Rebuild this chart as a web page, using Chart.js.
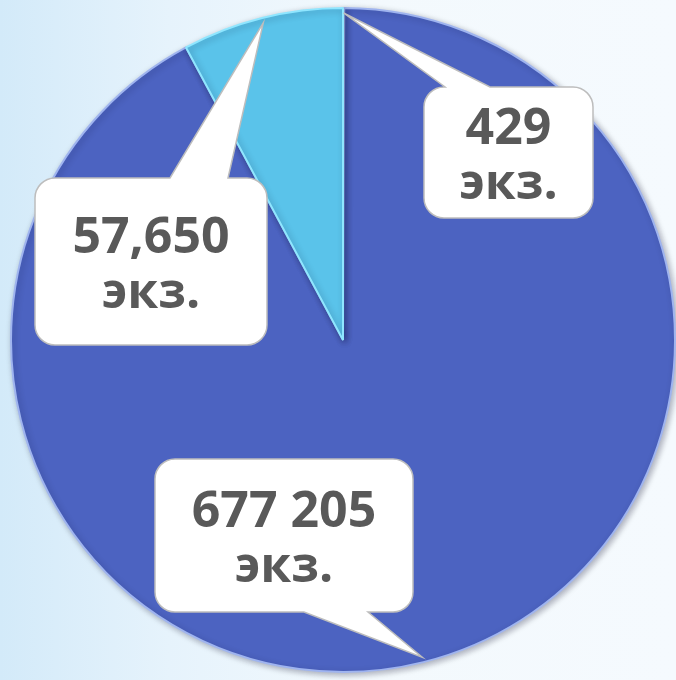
<!DOCTYPE html>
<html>
<head>
<meta charset="utf-8">
<script src="https://cdn.jsdelivr.net/npm/chart.js@4"></script>
<style>
  html, body { margin: 0; padding: 0; }
  body {
    width: 676px; height: 680px; overflow: hidden;
    background: linear-gradient(to right, #d3eaf9 0%, #e6f3fc 25%, #f3f9fd 55%, #f5fafe 100%);
  }
  #wrap { position: relative; width: 676px; height: 680px; }
</style>
</head>
<body>
<div id="wrap"><canvas id="chart" width="676" height="680"></canvas></div>
<script>
// data (clockwise from 12 o'clock)
const values = [429, 677205, 57650];
const valueLabels = ['429', '677 205', '57,650'];
const unitLabel = 'экз.';

// callout boxes, one per slice
const callouts = [
    { x: 424, y: 87, w: 169, h: 131, side: 'top', b1: 445, b2: 490 },
    { x: 155, y: 459, w: 258, h: 153, side: 'bottom', b1: 304, b2: 368 },
    { x: 35, y: 178, w: 232, h: 167, side: 'top', b1: 170, b2: 228 }
];

const calloutPlugin = {
    id: 'callouts',
    afterDatasetsDraw(chart) {
        const ctx = chart.ctx;
        const arcs = chart.getDatasetMeta(0).data;
        arcs.forEach((arc, i) => {
            const p = arc.getProps(['x', 'y', 'startAngle', 'endAngle', 'outerRadius'], true);
            const mid = (p.startAngle + p.endAngle) / 2;
            const tx = p.x + Math.cos(mid) * p.outerRadius * 0.985;
            const ty = p.y + Math.sin(mid) * p.outerRadius * 0.985;
            const c = callouts[i];
            const r = 20;
            const x = c.x, y = c.y, w = c.w, h = c.h;

            ctx.save();
            ctx.beginPath();
            ctx.moveTo(x + r, y);
            if (c.side === 'top') {
                ctx.lineTo(c.b1, y);
                ctx.lineTo(tx, ty);
                ctx.lineTo(c.b2, y);
            }
            ctx.lineTo(x + w - r, y);
            ctx.arcTo(x + w, y, x + w, y + r, r);
            ctx.lineTo(x + w, y + h - r);
            ctx.arcTo(x + w, y + h, x + w - r, y + h, r);
            if (c.side === 'bottom') {
                ctx.lineTo(c.b2, y + h);
                ctx.lineTo(tx, ty);
                ctx.lineTo(c.b1, y + h);
            }
            ctx.lineTo(x + r, y + h);
            ctx.arcTo(x, y + h, x, y + h - r, r);
            ctx.lineTo(x, y + r);
            ctx.arcTo(x, y, x + r, y, r);
            ctx.closePath();
            ctx.fillStyle = '#ffffff';
            ctx.fill();
            ctx.lineWidth = 1.5;
            ctx.strokeStyle = '#bdbdbd';
            ctx.stroke();

            ctx.fillStyle = '#595959';
            ctx.textAlign = 'center';
            ctx.textBaseline = 'alphabetic';
            ctx.font = 'bold 50px "Open Sans"';
            const cx = x + w / 2;
            const base = y + h / 2 - 9;
            ctx.fillText(valueLabels[i], cx, base);
            ctx.fillText(unitLabel, cx, base + 55);
            ctx.restore();
        });
    }
};

const shadowPlugin = {
    id: 'pieShadow',
    beforeDatasetsDraw(chart) {
        const ctx = chart.ctx;
        ctx.save();
        ctx.shadowColor = 'rgba(0, 0, 40, 0.3)';
        ctx.shadowBlur = 6;
        ctx.shadowOffsetX = 2;
        ctx.shadowOffsetY = 2;
    },
    afterDatasetsDraw(chart) {
        chart.ctx.restore();
    }
};

new Chart(document.getElementById('chart'), {
    type: 'pie',
    data: {
        labels: valueLabels,
        datasets: [{
            data: values,
            backgroundColor: ['#7d93e0', '#4c63c1', '#5ac3ea'],
            borderColor: ['#c9d6ff', '#9fb4ef', '#8fe6ff'],
            borderWidth: 2
        }]
    },
    options: {
        responsive: false,
        animation: false,
        layout: { padding: { left: 10, right: 0, top: 7, bottom: 7 } },
        plugins: {
            legend: { display: false },
            tooltip: { enabled: false }
        }
    },
    plugins: [shadowPlugin, calloutPlugin]
});
</script>
</body>
</html>
